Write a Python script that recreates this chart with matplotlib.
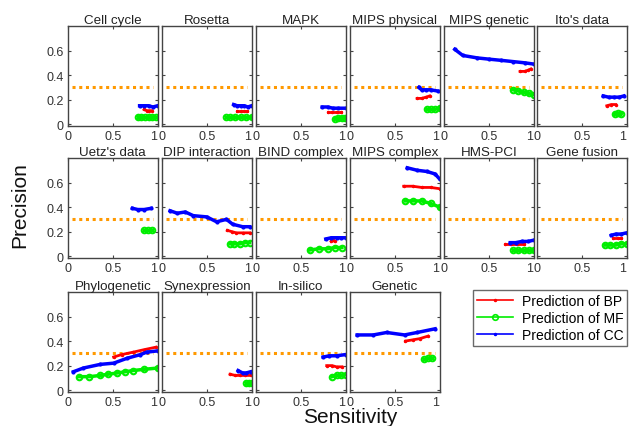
import matplotlib
matplotlib.use("Agg")
import matplotlib.pyplot as plt
from matplotlib.lines import Line2D

plt.rcParams['font.family'] = ['Liberation Sans', 'DejaVu Sans']

titles = ["Cell cycle", "Rosetta", "MAPK", "MIPS physical", "MIPS genetic", "Ito's data",
          "Uetz's data", "DIP interaction", "BIND complex", "MIPS complex", "HMS-PCI", "Gene fusion",
          "Phylogenetic", "Synexpression", "In-silico", "Genetic"]

bp_x = [
    [0.85, 0.88, 0.91, 0.94], [0.84, 0.88, 0.92, 0.95], [0.81, 0.85, 0.9, 0.95],
    [0.75, 0.8, 0.85, 0.89], [0.85, 0.9, 0.94, 0.97], [0.78, 0.83, 0.88],
    [], [0.73, 0.78, 0.83, 0.9, 0.98], [0.84, 0.86, 0.88],
    [0.6, 0.7, 0.8, 0.9, 1.0], [0.68, 0.75, 0.82, 0.89], [0.85, 0.9, 0.94],
    [0.51, 0.6, 0.73, 0.85, 0.98], [0.76, 0.82, 0.87, 0.93, 0.99], [0.79, 0.85, 0.9, 0.96],
    [0.62, 0.7, 0.78, 0.87],
]
bp_y = [
    [0.12, 0.11, 0.11, 0.11], [0.11, 0.11, 0.11, 0.11], [0.10, 0.10, 0.10, 0.10],
    [0.21, 0.21, 0.22, 0.23], [0.43, 0.43, 0.44, 0.45], [0.15, 0.16, 0.16],
    [], [0.21, 0.20, 0.19, 0.19, 0.19], [0.12, 0.13, 0.12],
    [0.57, 0.57, 0.56, 0.56, 0.55], [0.10, 0.10, 0.10, 0.10], [0.15, 0.15, 0.15],
    [0.27, 0.29, 0.31, 0.33, 0.35], [0.13, 0.12, 0.12, 0.12, 0.12], [0.20, 0.20, 0.19, 0.19],
    [0.40, 0.41, 0.42, 0.44],
]
mf_x = [
    [0.78, 0.82, 0.86, 0.9, 0.94, 0.98], [0.71, 0.76, 0.82, 0.88, 0.94, 1.0], [0.88, 0.92, 0.96, 0.99],
    [0.86, 0.9, 0.95, 1.0], [0.77, 0.83, 0.89, 0.95, 1.0], [0.87, 0.9, 0.94],
    [0.85, 0.89, 0.94], [0.76, 0.81, 0.87, 0.93, 0.98], [0.6, 0.7, 0.8, 0.88, 0.96],
    [0.62, 0.7, 0.8, 0.9, 1.0], [0.77, 0.83, 0.89, 0.95, 1.0], [0.76, 0.82, 0.88, 0.94, 1.0],
    [0.12, 0.24, 0.36, 0.45, 0.55, 0.64, 0.73, 0.85, 1.0], [0.94, 0.97, 1.0], [0.85, 0.9, 0.95, 1.0],
    [0.83, 0.87, 0.92],
]
mf_y = [
    [0.06, 0.06, 0.06, 0.06, 0.06, 0.06], [0.06, 0.06, 0.06, 0.06, 0.06, 0.06], [0.04, 0.05, 0.05, 0.05],
    [0.12, 0.12, 0.12, 0.13], [0.28, 0.27, 0.26, 0.25, 0.24], [0.08, 0.09, 0.08],
    [0.21, 0.21, 0.21], [0.10, 0.10, 0.10, 0.11, 0.11], [0.05, 0.06, 0.06, 0.07, 0.07],
    [0.45, 0.45, 0.45, 0.43, 0.40], [0.05, 0.05, 0.05, 0.05, 0.05], [0.09, 0.09, 0.09, 0.10, 0.10],
    [0.11, 0.11, 0.12, 0.13, 0.14, 0.15, 0.16, 0.17, 0.18], [0.06, 0.06, 0.06], [0.11, 0.12, 0.12, 0.125],
    [0.25, 0.26, 0.26],
]
cc_x = [
    [0.8, 0.85, 0.9, 0.95, 1.0], [0.8, 0.84, 0.88, 0.92, 0.96, 1.0], [0.74, 0.8, 0.86, 0.92, 1.0],
    [0.77, 0.8, 0.85, 0.9, 0.98], [0.12, 0.21, 0.37, 0.5, 0.64, 0.77, 0.9, 1.0], [0.74, 0.8, 0.86, 0.92, 0.97],
    [0.72, 0.78, 0.85, 0.93], [0.09, 0.17, 0.26, 0.35, 0.5, 0.61, 0.72, 0.79, 0.9, 0.98],
    [0.78, 0.84, 0.9, 0.95, 1.0],
    [0.64, 0.75, 0.86, 0.95, 1.0], [0.74, 0.8, 0.87, 0.94, 1.0], [0.83, 0.88, 0.94, 1.0],
    [0.06, 0.17, 0.36, 0.51, 0.66, 0.81, 0.88, 1.0], [0.85, 0.9, 0.94, 0.99], [0.75, 0.82, 0.9, 1.0],
    [0.08, 0.26, 0.41, 0.61, 0.75, 0.95],
]
cc_y = [
    [0.15, 0.15, 0.15, 0.14, 0.15], [0.16, 0.15, 0.15, 0.15, 0.14, 0.15], [0.14, 0.14, 0.13, 0.13, 0.13],
    [0.30, 0.28, 0.28, 0.28, 0.27], [0.61, 0.56, 0.54, 0.53, 0.52, 0.51, 0.50, 0.49], [0.23, 0.22, 0.22, 0.22, 0.23],
    [0.39, 0.38, 0.38, 0.39], [0.37, 0.35, 0.36, 0.33, 0.32, 0.28, 0.30, 0.26, 0.24, 0.24],
    [0.14, 0.15, 0.15, 0.15, 0.15],
    [0.72, 0.70, 0.69, 0.67, 0.63], [0.11, 0.11, 0.12, 0.12, 0.13], [0.17, 0.18, 0.18, 0.19],
    [0.15, 0.18, 0.21, 0.22, 0.26, 0.29, 0.31, 0.32], [0.16, 0.14, 0.14, 0.15], [0.27, 0.28, 0.28, 0.29],
    [0.45, 0.45, 0.47, 0.45, 0.47, 0.50],
]
baseline = 0.3
baseline_x = [0.05, 0.95]
x_ticks = [0, 0.5, 1]
x_ticklabels = ["0", "0.5", "1"]
y_ticks = [0, 0.2, 0.4, 0.6]
y_ticklabels = ["0", "0.2", "0.4", "0.6"]
legend_labels = ["Prediction of BP", "Prediction of MF", "Prediction of CC"]

RED, GREEN, BLUE, ORANGE = "#ff0000", "#00ee00", "#0000ff", "#ff9900"

W, H = 629, 427
fig = plt.figure(figsize=(W / 100, H / 100), dpi=100)

col_left = [68, 162, 256, 350, 444, 537]
col_w = 89.5
row_top = [27, 159, 293]
row_h = 100

for i, title in enumerate(titles):
    r, c = divmod(i, 6)
    left = col_left[c] / W
    bottom = 1 - (row_top[r] + row_h) / H
    ax = fig.add_axes([left, bottom, col_w / W, row_h / H])
    ax.set_xlim(0, 1)
    ax.set_ylim(-0.015, 0.8)
    ax.plot(baseline_x, [baseline, baseline], color=ORANGE, ls=(0, (1, 1.2)), lw=2.2)
    if bp_x[i]:
        ax.plot(bp_x[i], bp_y[i], color=RED, lw=2.0, marker='.', ms=3)
    if mf_x[i]:
        ax.plot(mf_x[i], mf_y[i], color=GREEN, lw=2.5, marker='o', ms=4, mfc='none', mew=1.5)
    if cc_x[i]:
        ax.plot(cc_x[i], cc_y[i], color=BLUE, lw=2.5, marker='.', ms=4)
    ax.set_xticks(x_ticks)
    labs = ax.set_xticklabels(x_ticklabels, fontsize=9, color="#333333")
    labs[2].set_horizontalalignment('right')
    ax.set_yticks(y_ticks)
    if c == 0:
        ax.set_yticklabels(y_ticklabels, fontsize=9, color="#333333")
    else:
        ax.set_yticklabels([])
    ax.tick_params(direction='in', length=2.5, width=0.8, top=True, right=True, color="#444444", pad=3)
    for s in ax.spines.values():
        s.set_color("#444444")
        s.set_linewidth(1.0)
    ax.set_title(title, fontsize=9.6, color="#222222", pad=2)

fig.text(20 / W, 1 - 205 / H, "Precision", rotation=90, fontsize=15, ha='center', va='center', color="#111111")
fig.text(350 / W, 1 - 418 / H, "Sensitivity", fontsize=15, ha='center', va='center', color="#111111")

handles = [
    Line2D([], [], color=RED, lw=1.2, marker='.', ms=3),
    Line2D([], [], color=GREEN, lw=1.2, marker='o', ms=4, mfc='none', mew=1.2),
    Line2D([], [], color=BLUE, lw=1.2, marker='.', ms=3),
]
leg = fig.legend(handles, legend_labels, loc='upper left',
                 bbox_to_anchor=(473 / W, 1 - 291 / H), fontsize=10, frameon=True,
                 fancybox=False, edgecolor="#444444", borderpad=0.3, labelspacing=0.2,
                 handlelength=2.6, handletextpad=0.6, borderaxespad=0)
leg.get_frame().set_linewidth(1.0)

fig.savefig("out.png", dpi=100)
